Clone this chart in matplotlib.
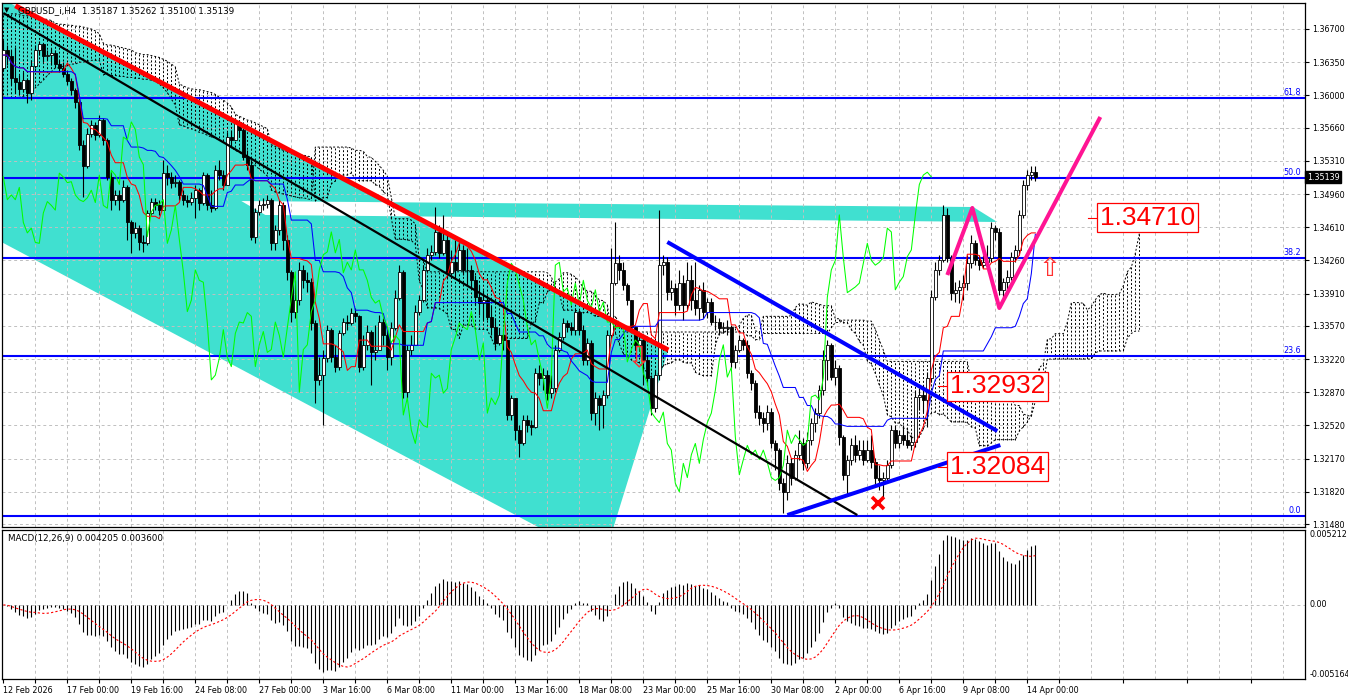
import numpy as np
import pandas as pd
import matplotlib
matplotlib.use("Agg")
import matplotlib.pyplot as plt
from matplotlib.patches import Polygon

# GBPUSD_i H4 candles, one value per bar (open = previous close)
close = [
    1.3648, 1.3641, 1.3618, 1.3614, 1.3607, 1.3616, 1.3603, 1.3631, 1.3648, 1.3654,
    1.3641, 1.3643, 1.3645, 1.3633, 1.3629, 1.3623, 1.3615, 1.3606, 1.3593, 1.3548,
    1.3526, 1.3559, 1.3569, 1.3558, 1.3574, 1.3553, 1.3514, 1.3490, 1.3495, 1.3490,
    1.3503, 1.3466, 1.3455, 1.3460, 1.3445, 1.3444, 1.3476, 1.3488, 1.3484, 1.3479,
    1.3518, 1.3514, 1.3508, 1.3509, 1.3495, 1.3490, 1.3488, 1.3492, 1.3500, 1.3487,
    1.3516, 1.3484, 1.3481, 1.3521, 1.3516, 1.3506, 1.3556, 1.3553, 1.3572, 1.3564,
    1.3535, 1.3527, 1.3451, 1.3477, 1.3484, 1.3485, 1.3490, 1.3444, 1.3458, 1.3484,
    1.3448, 1.3414, 1.3372, 1.3384, 1.3416, 1.3405, 1.3403, 1.3360, 1.3300, 1.3305,
    1.3323, 1.3353, 1.3324, 1.3314, 1.3349, 1.3361, 1.3360, 1.3371, 1.3367, 1.3314,
    1.3337, 1.3351, 1.3329, 1.3332, 1.3361, 1.3347, 1.3324, 1.3355, 1.3386, 1.3414,
    1.3287, 1.3332, 1.3337, 1.3372, 1.3384, 1.3416, 1.3432, 1.3435, 1.3456, 1.3434,
    1.3448, 1.3413, 1.3424, 1.3416, 1.3437, 1.3416, 1.3416, 1.3405, 1.3387, 1.3381,
    1.3384, 1.3366, 1.3356, 1.3339, 1.3347, 1.3342, 1.3263, 1.3281, 1.3247, 1.3233,
    1.3258, 1.3252, 1.3250, 1.3307, 1.3302, 1.3305, 1.3286, 1.3291, 1.3332, 1.3345,
    1.3360, 1.3356, 1.3353, 1.3372, 1.3353, 1.3321, 1.3339, 1.3265, 1.3281, 1.3274,
    1.3284, 1.3347, 1.3402, 1.3423, 1.3416, 1.3400, 1.3384, 1.3356, 1.3337, 1.3342,
    1.3321, 1.3302, 1.3270, 1.3305, 1.3421, 1.3424, 1.3393, 1.3397, 1.3379, 1.3402,
    1.3379, 1.3405, 1.3384, 1.3376, 1.3395, 1.3372, 1.3382, 1.3361, 1.3361, 1.3355,
    1.3355, 1.3356, 1.3319, 1.3332, 1.3342, 1.3337, 1.3307, 1.3297, 1.3266, 1.3260,
    1.3255, 1.3266, 1.3233, 1.3226, 1.3191, 1.3182, 1.3212, 1.3197, 1.3221, 1.3233,
    1.3212, 1.3237, 1.3255, 1.3265, 1.3289, 1.3321, 1.3337, 1.3303, 1.3313, 1.3240,
    1.3200, 1.3216, 1.3231, 1.3221, 1.3226, 1.3216, 1.3226, 1.3213, 1.3197, 1.3194,
    1.3197, 1.3210, 1.3247, 1.3233, 1.3242, 1.3237, 1.3231, 1.3235, 1.3282, 1.3284,
    1.3279, 1.3302, 1.3387, 1.3416, 1.3426, 1.3474, 1.3429, 1.3392, 1.3395, 1.3398,
    1.3402, 1.3423, 1.3444, 1.3426, 1.3421, 1.3424, 1.3429, 1.3460, 1.3456, 1.3395,
    1.3403, 1.3409, 1.3430, 1.3437, 1.3474, 1.3506, 1.3516, 1.3519, 1.3514,
]
high = [
    1.3658, 1.3653, 1.3648, 1.3651, 1.3622, 1.3625, 1.3618, 1.3637, 1.3653, 1.3657,
    1.3655, 1.3648, 1.3650, 1.3648, 1.3637, 1.3635, 1.3627, 1.3618, 1.3608, 1.3595,
    1.3553, 1.3566, 1.3574, 1.3572, 1.3579, 1.3576, 1.3555, 1.3519, 1.3500, 1.3500,
    1.3511, 1.3506, 1.3469, 1.3466, 1.3463, 1.3453, 1.3479, 1.3492, 1.3492, 1.3490,
    1.3532, 1.3527, 1.3519, 1.3516, 1.3511, 1.3500, 1.3495, 1.3498, 1.3506, 1.3502,
    1.3519, 1.3518, 1.3500, 1.3527, 1.3532, 1.3521, 1.3561, 1.3564, 1.3576, 1.3574,
    1.3566, 1.3542, 1.3532, 1.3481, 1.3490, 1.3492, 1.3495, 1.3492, 1.3463, 1.3490,
    1.3488, 1.3453, 1.3416, 1.3405, 1.3424, 1.3421, 1.3414, 1.3407, 1.3363, 1.3324,
    1.3332, 1.3358, 1.3355, 1.3337, 1.3353, 1.3365, 1.3368, 1.3376, 1.3376, 1.3368,
    1.3347, 1.3358, 1.3353, 1.3358, 1.3368, 1.3365, 1.3353, 1.3361, 1.3395, 1.3421,
    1.3416, 1.3337, 1.3347, 1.3379, 1.3390, 1.3421, 1.3439, 1.3442, 1.3482, 1.3463,
    1.3474, 1.3456, 1.3437, 1.3448, 1.3448, 1.3442, 1.3439, 1.3421, 1.3411, 1.3400,
    1.3395, 1.3390, 1.3379, 1.3365, 1.3355, 1.3353, 1.3342, 1.3284, 1.3281, 1.3252,
    1.3263, 1.3263, 1.3258, 1.3313, 1.3316, 1.3313, 1.3310, 1.3305, 1.3337, 1.3351,
    1.3365, 1.3363, 1.3361, 1.3376, 1.3374, 1.3358, 1.3344, 1.3342, 1.3287, 1.3284,
    1.3289, 1.3353, 1.3439, 1.3466, 1.3432, 1.3424, 1.3402, 1.3384, 1.3355, 1.3349,
    1.3347, 1.3326, 1.3305, 1.3310, 1.3479, 1.3432, 1.3430, 1.3405, 1.3402, 1.3416,
    1.3411, 1.3424, 1.3421, 1.3424, 1.3400, 1.3403, 1.3386, 1.3386, 1.3368, 1.3365,
    1.3361, 1.3363, 1.3358, 1.3337, 1.3347, 1.3344, 1.3342, 1.3310, 1.3300, 1.3274,
    1.3266, 1.3274, 1.3270, 1.3237, 1.3228, 1.3197, 1.3221, 1.3218, 1.3226, 1.3247,
    1.3239, 1.3245, 1.3260, 1.3270, 1.3295, 1.3332, 1.3342, 1.3339, 1.3321, 1.3316,
    1.3242, 1.3221, 1.3239, 1.3242, 1.3237, 1.3237, 1.3237, 1.3242, 1.3218, 1.3210,
    1.3203, 1.3216, 1.3252, 1.3252, 1.3247, 1.3252, 1.3247, 1.3242, 1.3289, 1.3291,
    1.3295, 1.3308, 1.3395, 1.3424, 1.3432, 1.3484, 1.3481, 1.3432, 1.3403, 1.3405,
    1.3411, 1.3432, 1.3453, 1.3448, 1.3432, 1.3432, 1.3442, 1.3466, 1.3463, 1.3460,
    1.3407, 1.3416, 1.3435, 1.3442, 1.3479, 1.3511, 1.3521, 1.3526, 1.3526,
]
low = [
    1.3627, 1.3632, 1.3611, 1.3603, 1.3600, 1.3604, 1.3592, 1.3595, 1.3629, 1.3643,
    1.3635, 1.3637, 1.3632, 1.3630, 1.3625, 1.3619, 1.3611, 1.3600, 1.3587, 1.3542,
    1.3493, 1.3523, 1.3556, 1.3553, 1.3556, 1.3548, 1.3511, 1.3479, 1.3484, 1.3479,
    1.3488, 1.3448, 1.3434, 1.3450, 1.3437, 1.3435, 1.3442, 1.3474, 1.3479, 1.3474,
    1.3479, 1.3506, 1.3502, 1.3503, 1.3490, 1.3484, 1.3482, 1.3484, 1.3471, 1.3479,
    1.3484, 1.3479, 1.3477, 1.3479, 1.3511, 1.3500, 1.3506, 1.3547, 1.3553, 1.3556,
    1.3532, 1.3521, 1.3448, 1.3444, 1.3474, 1.3479, 1.3481, 1.3437, 1.3437, 1.3453,
    1.3437, 1.3405, 1.3361, 1.3365, 1.3379, 1.3397, 1.3393, 1.3353, 1.3276, 1.3295,
    1.3252, 1.3319, 1.3319, 1.3308, 1.3310, 1.3347, 1.3353, 1.3358, 1.3361, 1.3308,
    1.3310, 1.3332, 1.3295, 1.3321, 1.3332, 1.3337, 1.3310, 1.3316, 1.3353, 1.3384,
    1.3281, 1.3281, 1.3326, 1.3337, 1.3368, 1.3382, 1.3414, 1.3426, 1.3432, 1.3429,
    1.3432, 1.3407, 1.3411, 1.3407, 1.3424, 1.3411, 1.3400, 1.3397, 1.3379, 1.3368,
    1.3363, 1.3363, 1.3347, 1.3332, 1.3337, 1.3332, 1.3258, 1.3258, 1.3237, 1.3219,
    1.3231, 1.3245, 1.3242, 1.3249, 1.3295, 1.3289, 1.3279, 1.3281, 1.3287, 1.3329,
    1.3342, 1.3351, 1.3347, 1.3347, 1.3347, 1.3316, 1.3316, 1.3258, 1.3252, 1.3247,
    1.3249, 1.3281, 1.3344, 1.3400, 1.3405, 1.3395, 1.3379, 1.3353, 1.3332, 1.3332,
    1.3295, 1.3295, 1.3263, 1.3266, 1.3300, 1.3411, 1.3384, 1.3384, 1.3368, 1.3374,
    1.3363, 1.3374, 1.3374, 1.3368, 1.3363, 1.3365, 1.3365, 1.3358, 1.3353, 1.3347,
    1.3349, 1.3347, 1.3313, 1.3313, 1.3329, 1.3332, 1.3302, 1.3289, 1.3260, 1.3252,
    1.3245, 1.3247, 1.3228, 1.3205, 1.3184, 1.3160, 1.3173, 1.3189, 1.3194, 1.3216,
    1.3205, 1.3207, 1.3231, 1.3245, 1.3260, 1.3284, 1.3300, 1.3300, 1.3295, 1.3231,
    1.3194, 1.3179, 1.3210, 1.3213, 1.3216, 1.3210, 1.3213, 1.3207, 1.3189, 1.3184,
    1.3177, 1.3192, 1.3207, 1.3228, 1.3228, 1.3231, 1.3228, 1.3226, 1.3229, 1.3268,
    1.3266, 1.3250, 1.3298, 1.3384, 1.3411, 1.3424, 1.3424, 1.3384, 1.3382, 1.3381,
    1.3384, 1.3395, 1.3418, 1.3421, 1.3416, 1.3418, 1.3421, 1.3424, 1.3448, 1.3390,
    1.3384, 1.3395, 1.3405, 1.3424, 1.3432, 1.3471, 1.3500, 1.3511, 1.3510,
]
first_open = 1.3629

# cloud edges for the first 78 bars (their history is off screen)
cloud_top_head = [
    1.3685, 1.3685, 1.3686, 1.3686, 1.3685, 1.3684, 1.3684, 1.3683,
    1.3682, 1.3682, 1.3681, 1.3680, 1.3679,
    1.3676, 1.3675, 1.3675, 1.3674, 1.3674, 1.3673, 1.3673, 1.3672,
    1.3671, 1.3670, 1.3668, 1.3665,
    1.3655, 1.3653, 1.3653, 1.3652, 1.3651, 1.3650, 1.3649, 1.3648,
    1.3645, 1.3644, 1.3643, 1.3643, 1.3642, 1.3641, 1.3640, 1.3638, 1.3636, 1.3633, 1.3630,
    1.3612, 1.3610, 1.3608, 1.3607, 1.3606, 1.3606, 1.3605, 1.3604, 1.3603, 1.3601, 1.3598,
    1.3595, 1.3592, 1.3588,
    1.3580, 1.3578, 1.3576, 1.3574, 1.3573, 1.3571, 1.3569, 1.3567, 1.3565,
    1.3548, 1.3546, 1.3544, 1.3542, 1.3541, 1.3540, 1.3539, 1.3538, 1.3537, 1.3536, 1.3535,
]
cloud_bot_head = [
    1.3598, 1.3598, 1.3597, 1.3597, 1.3598, 1.3599, 1.3600, 1.3602,
    1.3608, 1.3612, 1.3616, 1.3621, 1.3625,
    1.3629, 1.3629, 1.3631, 1.3631, 1.3633, 1.3633, 1.3635, 1.3635, 1.3636, 1.3637, 1.3637, 1.3637,
    1.3622, 1.3622, 1.3621, 1.3621, 1.3620, 1.3620, 1.3619, 1.3619,
    1.3618, 1.3618, 1.3617, 1.3617, 1.3616, 1.3615, 1.3612, 1.3608, 1.3603, 1.3596, 1.3590,
    1.3569, 1.3568, 1.3566, 1.3565, 1.3563, 1.3561, 1.3560, 1.3558, 1.3556, 1.3555, 1.3553,
    1.3551, 1.3548, 1.3545,
    1.3542, 1.3540, 1.3537, 1.3533, 1.3530, 1.3526, 1.3522, 1.3519, 1.3515,
    1.3500, 1.3498, 1.3497, 1.3496, 1.3495, 1.3494, 1.3493, 1.3492, 1.3492, 1.3491, 1.3490,
]

price_ticks = [1.36700, 1.36350, 1.36000, 1.35660, 1.35310, 1.34960, 1.34610, 1.34260,
               1.33910, 1.33570, 1.33220, 1.32870, 1.32520, 1.32170, 1.31820, 1.31480]
date_labels = ["12 Feb 2026", "17 Feb 00:00", "19 Feb 16:00", "24 Feb 08:00", "27 Feb 00:00",
               "3 Mar 16:00", "6 Mar 08:00", "11 Mar 00:00", "13 Mar 16:00", "18 Mar 08:00",
               "23 Mar 00:00", "25 Mar 16:00", "30 Mar 08:00", "2 Apr 00:00", "6 Apr 16:00",
               "9 Apr 08:00", "14 Apr 00:00"]
fib_levels = [1.31565, 1.33255, 1.34285, 1.35129, 1.35970]
fib_names = ["0.0", "23.6", "38.2", "50.0", "61.8"]

# chart objects as (bar, price)
red_line = [(3.0, 1.36945), (166.25, 1.33315)]
black_line = [(0.0, 1.36869), (213.5, 1.31575)]
blue_down = [(166.0, 1.34454), (248.5, 1.32461)]
blue_up = [(196.0, 1.31575), (249.25, 1.32313)]
zigzag = [(236.0, 1.34106), (242.25, 1.34813), (249.0, 1.33758), (274.25, 1.35772)]
channel = [(-10.75, 1.37249), (166.25, 1.33315), (149.9, 1.31086), (-10.75, 1.34684)]
band = [(59.5, 1.34886), (242.5, 1.34823), (248.5, 1.34665), (65.5, 1.34739)]
price_labels = [(236.25, 1.32932), (236.25, 1.32084), (273.75, 1.34710)]
cross_mark = (218.75, 1.31702)
arrow_down = (158.75, 1.33230)
arrow_up = (261.5, 1.34170)
last_price = 1.35139
macd_top, macd_bot = 0.005212, -0.005164

TURQ = "#40E0D0"
GRID = "#c0c0c0"
FS = 5.8

# ---- indicators ----
n = len(close)
c = pd.Series(close)
h = pd.Series(high)
l = pd.Series(low)
o = c.shift(1).fillna(first_open)
x = np.arange(n)

tenkan = (h.rolling(9, min_periods=1).max() + l.rolling(9, min_periods=1).min()) / 2
kijun = (h.rolling(26, min_periods=1).max() + l.rolling(26, min_periods=1).min()) / 2
span_b = (h.rolling(52, min_periods=1).max() + l.rolling(52, min_periods=1).min()) / 2
cloud_a = np.full(n + 26, np.nan)
cloud_b = np.full(n + 26, np.nan)
cloud_a[26:] = ((tenkan + kijun) / 2).values
cloud_b[26:] = span_b.values
k = len(cloud_top_head)
cloud_a[:k] = cloud_top_head
cloud_b[:k] = cloud_bot_head
cx = np.arange(n + 26)

ema12 = c.ewm(span=12, adjust=False).mean()
ema26 = c.ewm(span=26, adjust=False).mean()
macd = ema12 - ema26
signal = macd.rolling(9, min_periods=1).mean()

# ---- figure ----
W, H = 1348, 700
fig = plt.figure(figsize=(W / 100, H / 100), dpi=100)
fig.patch.set_facecolor("white")


def px_box(x0, y0, x1, y1):
    return [x0 / W, 1 - y1 / H, (x1 - x0) / W, (y1 - y0) / H]


ax = fig.add_axes(px_box(2, 3, 1305, 527))
ax2 = fig.add_axes(px_box(2, 530, 1305, 679))
for a in (ax, ax2):
    a.set_xlim(-0.33, 325.42)
    for s in a.spines.values():
        s.set_linewidth(0.9)
        s.set_color("black")
ax.set_ylim(1.31449, 1.36974)
ax2.set_ylim(macd_bot, macd_top)

# grid
for xv in range(8, 326, 8):
    for a in (ax, ax2):
        a.axvline(xv, color=GRID, lw=0.7, ls=(0, (3, 3)), zorder=1)
for yv in price_ticks:
    ax.axhline(yv, color=GRID, lw=0.7, ls=(0, (3, 3)), zorder=1)
ax2.axhline(0, color=GRID, lw=0.7, ls=(0, (3, 3)), zorder=1)

# filled channel objects (overlap shows as background, like MT4 xor fill)
chan_patch = Polygon(channel, closed=True, fc=TURQ, ec="none", zorder=0.5)
ax.add_patch(chan_patch)
ax.add_patch(Polygon(band, closed=True, fc=TURQ, ec="none", zorder=0.6))
white_band = Polygon(band, closed=True, fc="white", ec="none", zorder=0.7)
ax.add_patch(white_band)
white_band.set_clip_path(chan_patch)

# ichimoku cloud
ax.vlines(cx, cloud_a, cloud_b, colors="black", linestyles=[(0, (2, 2))], lw=0.7, zorder=1.6)
ax.plot(cx, cloud_a, color="black", lw=0.7, ls=(0, (2, 2)), zorder=1.6)
ax.plot(cx, cloud_b, color="black", lw=0.7, ls=(0, (2, 2)), zorder=1.6)

# fibo levels
for lv, name in zip(fib_levels, fib_names):
    ax.axhline(lv, color="#0000ff", lw=1.5, zorder=2)
    ax.text(324.4, lv + 0.00008, name, ha="right", va="bottom", color="#0000ff",
            fontsize=FS, zorder=2)

# candles
up = (c >= o).values
bot = np.minimum(o, c).values
hgt = np.maximum(np.abs(c - o).values, 0.00003)
ax.vlines(x, l, h, color="black", lw=0.8, zorder=3)
ax.bar(x[up], hgt[up], bottom=bot[up], width=0.75, color="white", edgecolor="black",
       linewidth=0.6, zorder=3.1)
ax.bar(x[~up], hgt[~up], bottom=bot[~up], width=0.75, color="black", edgecolor="black",
       linewidth=0.6, zorder=3.1)

# ichimoku lines
ax.plot(x, tenkan, color="#ff0000", lw=0.75, zorder=3.5)
ax.plot(x, kijun, color="#0000ff", lw=0.75, zorder=3.5)
ax.plot(x[:n - 26], c.values[26:], color="#00ff00", lw=0.75, zorder=3.5)

# trend lines
for pts, col, lw in [(red_line, "#ff0000", 3.6), (black_line, "black", 1.6),
                     (blue_down, "#0000ff", 2.9), (blue_up, "#0000ff", 2.9),
                     (zigzag, "#ff1493", 2.9)]:
    ax.plot([p[0] for p in pts], [p[1] for p in pts], color=col, lw=lw,
            solid_capstyle="butt", zorder=4)

# marks
ax.plot(*cross_mark, marker="x", ms=8, mew=2.6, color="#ff0000", zorder=5)
ax.text(*arrow_down, "\u21e9", ha="center", va="center", fontsize=21, color="#ff3030", zorder=5)
ax.text(*arrow_up, "\u21e7", ha="center", va="center", fontsize=19, color="#ff3030", zorder=5)

for bx, pr in price_labels:
    ax.plot([bx - 2.6, bx], [pr, pr], color="#ff0000", lw=0.8, zorder=6)
    ax.text(bx + 0.4, pr, f"{pr:.5f}", ha="left", va="center", fontsize=19,
            family="Liberation Sans", color="#ff0000", zorder=7,
            bbox=dict(boxstyle="square,pad=0.1", fc="white", ec="#ff0000", lw=0.9))

# right price scale
ax.yaxis.tick_right()
ax.set_yticks(price_ticks)
ax.set_yticklabels([f"{v:.5f}" for v in price_ticks])
ax.tick_params(axis="y", length=3, width=0.8, pad=2, labelsize=FS)
ax.set_xticks([])
ax.annotate(f"{last_price:.5f}", xy=(1.0, last_price), xycoords=("axes fraction", "data"),
            xytext=(1.5, 0), textcoords="offset points", ha="left", va="center",
            fontsize=FS, color="white", annotation_clip=False, zorder=10,
            bbox=dict(boxstyle="square,pad=0.2", fc="black", ec="black"))

# macd panel
ax2.vlines(x, 0, macd.values, color="black", lw=0.8, zorder=3)
ax2.plot(x, signal.values, color="#ff0000", lw=0.8, ls=(0, (2, 2)), zorder=3.5)
ax2.set_yticks([])
for val, txt, va in [(macd_top, "0.005212", "top"), (0.0, "0.00", "center"),
                     (macd_bot, "-0.005164", "bottom")]:
    ax2.annotate(txt, xy=(1.0, val), xycoords=("axes fraction", "data"), xytext=(3, 0),
                 textcoords="offset points", ha="left", va=va, fontsize=FS,
                 annotation_clip=False)
ax2.set_xticks(range(0, 257, 16))
ax2.set_xticklabels(date_labels, ha="left")
ax2.set_xticks(range(8, 326, 16), minor=True)
ax2.tick_params(axis="x", which="both", length=3, width=0.8, pad=2, labelsize=FS)

fig.text(4 / W, 1 - 10 / H, "\u25bc", fontsize=5, va="center", ha="left")
fig.text(18 / W, 1 - 11 / H, "GBPUSD_i,H4  1.35187 1.35262 1.35100 1.35139",
         fontsize=6.3, va="center", ha="left")
fig.text(8 / W, 1 - 538 / H, "MACD(12,26,9) 0.004205 0.003600", fontsize=6.3,
         va="center", ha="left")

fig.savefig("out.png", dpi=100)
